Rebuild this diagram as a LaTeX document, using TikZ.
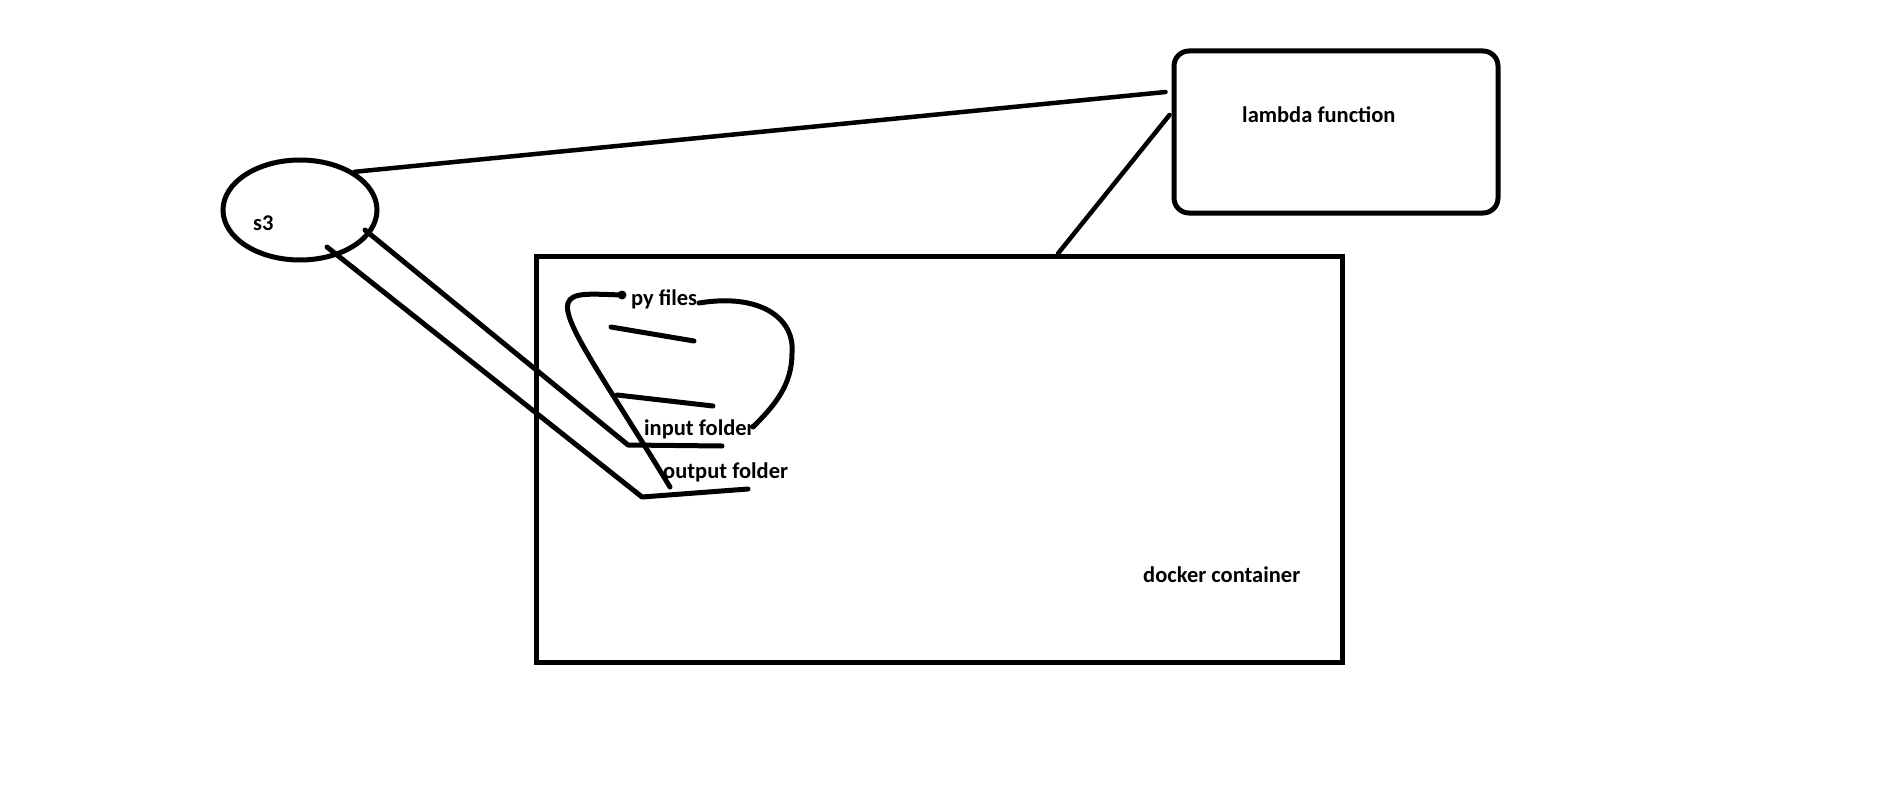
\documentclass[tikz,border=0pt]{standalone}
\usepackage{fontspec}
\setmainfont{Carlito}
\usetikzlibrary{shapes.geometric}
\tikzset{
  shp/.style={draw=black, line width=5pt, inner sep=0pt},
  stroke/.style={draw=black, line width=5pt, line cap=round, line join=round},
  thin stroke/.style={draw=black, line width=4.5pt, line cap=round},
  lbl/.style={inner sep=0pt, anchor=base west, font=\fontsize{22.5pt}{26pt}\selectfont\bfseries},
}
\begin{document}
\begin{tikzpicture}[x=1pt,y=-1pt]
\useasboundingbox[fill=white] (0,0) rectangle (1879,800);
% shapes
\node[shp, ellipse, minimum width=154pt, minimum height=100pt] (s3) at (300,210) {};
\node[shp, rectangle, rounded corners=15pt, minimum width=324pt, minimum height=162pt] (lambda) at (1336,132) {};
\node[shp, rectangle, minimum width=806pt, minimum height=406pt] (docker) at (939,459) {};
% labels
\node[lbl] (s3t) at (253,230) {s3};
\node[lbl] (lambdat) at (1242,122) {lambda function};
\node[lbl] (dockert) at (1143,582) {docker container};
\node[lbl] (py) at (631,305) {py files};
\node[lbl] (inp) at (644,435) {input folder};
\node[lbl] (outp) at (663,478) {output folder};
% coordinates for hand-drawn strokes
\coordinate (a0) at (365,230);
\coordinate (a1) at (628,445);
\coordinate (a2) at (722,446);
\coordinate (b0) at (327,247);
\coordinate (b1) at (642,497);
\coordinate (b2) at (748,489);
\coordinate (l1a) at (611,327);
\coordinate (l1b) at (694,341);
\coordinate (l2a) at (617,395);
\coordinate (l2b) at (713,406);
\coordinate (c0) at (670,487);
\coordinate (c1) at (568,303);
\coordinate (c2) at (622,295);
\coordinate (h0) at (699,303);
\coordinate (h1) at (792,353);
\coordinate (h2) at (753,427);
% connectors
\draw[thin stroke] (s3.35) -- ([xshift=-6pt,yshift=40pt]lambda.west);
\draw[thin stroke] ([xshift=-2pt,yshift=17pt]lambda.west) -- ([xshift=119pt]docker.north);
\draw[stroke] (a0) -- (a1) -- (a2);
\draw[stroke] (b0) -- (b1) -- (b2);
\draw[stroke] (l1a) -- (l1b);
\draw[stroke] (l2a) -- (l2b);
\draw[stroke] (c0) .. controls (605,380) and (562,322) .. (c1) .. controls (572,292) and (590,294) .. (c2);
\fill (c2) circle (4.5pt);
\draw[stroke] (h0) .. controls (760,293) and (795,318) .. (h1) .. controls (792,385) and (775,405) .. (h2);
\end{tikzpicture}
\end{document}
